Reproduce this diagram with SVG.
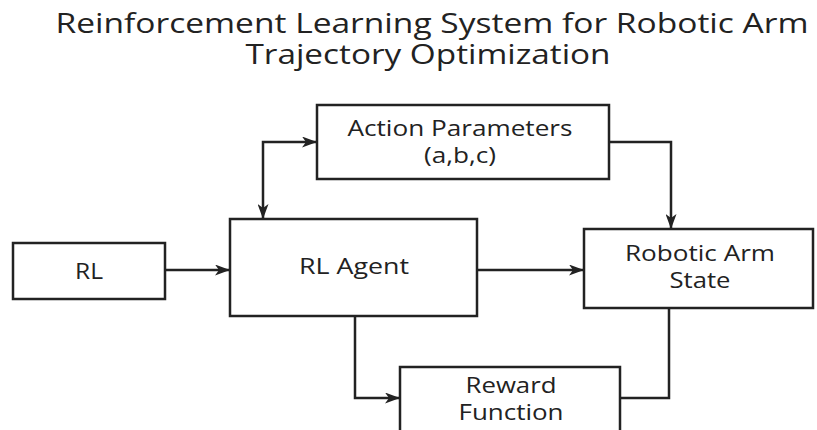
<svg xmlns="http://www.w3.org/2000/svg" width="817" height="430" viewBox="0 0 817 430">
<defs>
<style>
.box{fill:#fff;stroke:#222;stroke-width:2.5}
.lbl{font-family:"Open Sans","Noto Sans",sans-serif;font-size:21px;fill:#222;text-anchor:middle}
.title{font-family:"Open Sans","Noto Sans",sans-serif;font-size:27px;fill:#222;text-anchor:middle}
.edge{fill:none;stroke:#222;stroke-width:2.5}
</style>
<marker id="arr" viewBox="0 0 15 11" refX="14" refY="5.5" markerWidth="15" markerHeight="11" markerUnits="userSpaceOnUse" orient="auto-start-reverse">
<path d="M0,0 L15,5.5 L0,11 L4,5.5 z" fill="#222"/>
</marker>
</defs>
<rect width="817" height="430" fill="#fff"/>
<g id="title">
<text class="title" x="432" y="33" textLength="753" lengthAdjust="spacingAndGlyphs">Reinforcement Learning System for Robotic Arm</text>
<text class="title" x="428" y="64" textLength="365" lengthAdjust="spacingAndGlyphs">Trajectory Optimization</text>
</g>
<g id="connectors">
<path class="edge" d="M263,218 V142 H316" marker-start="url(#arr)" marker-end="url(#arr)"/>
<path class="edge" d="M609,142 H671 V228" marker-end="url(#arr)"/>
<path class="edge" d="M165,270 H229" marker-end="url(#arr)"/>
<path class="edge" d="M477,270 H583" marker-end="url(#arr)"/>
<path class="edge" d="M355,316 V398 H399" marker-end="url(#arr)"/>
<path class="edge" d="M669,308 V398 H620"/>
</g>
<g id="action">
<rect class="box" x="317" y="105" width="292" height="74"/>
<text class="lbl" x="460" y="136" textLength="225" lengthAdjust="spacingAndGlyphs">Action Parameters</text>
<text class="lbl" x="460" y="163" textLength="72" lengthAdjust="spacingAndGlyphs">(a,b,c)</text>
</g>
<g id="rl">
<rect class="box" x="13" y="243" width="152" height="56"/>
<text class="lbl" x="89" y="279" textLength="28" lengthAdjust="spacingAndGlyphs">RL</text>
</g>
<g id="agent">
<rect class="box" x="230" y="219" width="247" height="97"/>
<text class="lbl" x="354" y="274" textLength="110" lengthAdjust="spacingAndGlyphs">RL Agent</text>
</g>
<g id="robot">
<rect class="box" x="584" y="229" width="229" height="79"/>
<text class="lbl" x="700" y="261" textLength="150" lengthAdjust="spacingAndGlyphs">Robotic Arm</text>
<text class="lbl" x="700" y="288" textLength="61" lengthAdjust="spacingAndGlyphs">State</text>
</g>
<g id="reward">
<rect class="box" x="400" y="367" width="220" height="80"/>
<text class="lbl" x="511" y="393" textLength="91" lengthAdjust="spacingAndGlyphs">Reward</text>
<text class="lbl" x="511" y="420" textLength="105" lengthAdjust="spacingAndGlyphs">Function</text>
</g>
</svg>
